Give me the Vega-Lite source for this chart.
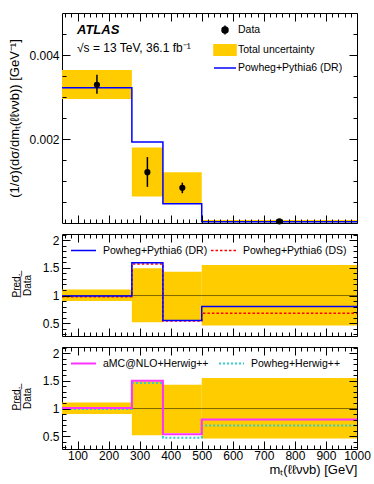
{
  "$schema": "https://vega.github.io/schema/vega-lite/v6.json",
  "padding": {"left": 7, "top": 12, "right": 19, "bottom": 2},
  "spacing": 11,
  "bounds": "flush",
  "resolve": {"scale": {"color": "independent", "strokeDash": "independent"}, "legend": {"color": "independent", "strokeDash": "independent"}},
  "datasets": {
    "top": [
      {"lo": 50, "hi": 275, "xc": 162.5, "val": 0.00329, "elo": 0.00308, "ehi": 0.00353, "blo": 0.00295, "bhi": 0.00364},
      {"lo": 275, "hi": 375, "xc": 325, "val": 0.00121, "elo": 0.00086, "ehi": 0.00157, "blo": 0.00063, "bhi": 0.0018},
      {"lo": 375, "hi": 500, "xc": 437.5, "val": 0.00084, "elo": 0.00071, "ehi": 0.00096, "blo": 0.00047, "bhi": 0.00121},
      {"lo": 500, "hi": 1000, "xc": 750, "val": 0.00004, "elo": 0.00003, "ehi": 0.00005, "blo": 0.00002, "bhi": 0.00007}
    ],
    "topline": [
      {"x": 50, "y": 0.00322},
      {"x": 275, "y": 0.00193},
      {"x": 375, "y": 0.00046},
      {"x": 500, "y": 0.00003},
      {"x": 1000, "y": 0.00003}
    ],
    "band": [
      {"lo": 50, "hi": 275, "blo": 0.9, "bhi": 1.11},
      {"lo": 275, "hi": 375, "blo": 0.52, "bhi": 1.49},
      {"lo": 375, "hi": 500, "blo": 0.56, "bhi": 1.43},
      {"lo": 500, "hi": 1000, "blo": 0.46, "bhi": 1.55}
    ],
    "mid": [
      {"model": "Powheg+Pythia6 (DR)", "x": 50, "r": 0.99},
      {"model": "Powheg+Pythia6 (DR)", "x": 275, "r": 1.59},
      {"model": "Powheg+Pythia6 (DR)", "x": 375, "r": 0.55},
      {"model": "Powheg+Pythia6 (DR)", "x": 500, "r": 0.8},
      {"model": "Powheg+Pythia6 (DR)", "x": 1000, "r": 0.8},
      {"model": "Powheg+Pythia6 (DS)", "x": 50, "r": 0.98},
      {"model": "Powheg+Pythia6 (DS)", "x": 275, "r": 1.57},
      {"model": "Powheg+Pythia6 (DS)", "x": 375, "r": 0.54},
      {"model": "Powheg+Pythia6 (DS)", "x": 500, "r": 0.68},
      {"model": "Powheg+Pythia6 (DS)", "x": 1000, "r": 0.68}
    ],
    "bot": [
      {"model": "aMC@NLO+Herwig++", "x": 50, "r": 1.01},
      {"model": "aMC@NLO+Herwig++", "x": 275, "r": 1.5},
      {"model": "aMC@NLO+Herwig++", "x": 375, "r": 0.535},
      {"model": "aMC@NLO+Herwig++", "x": 500, "r": 0.8},
      {"model": "aMC@NLO+Herwig++", "x": 1000, "r": 0.8},
      {"model": "Powheg+Herwig++", "x": 50, "r": 0.99},
      {"model": "Powheg+Herwig++", "x": 275, "r": 1.46},
      {"model": "Powheg+Herwig++", "x": 375, "r": 0.475},
      {"model": "Powheg+Herwig++", "x": 500, "r": 0.695},
      {"model": "Powheg+Herwig++", "x": 1000, "r": 0.695}
    ],
    "one": [{"ref": 1}]
  },
  "vconcat": [
    {
      "width": 295, "height": 210,
      "title": {"text": "ATLAS", "subtitle": "√s = 13 TeV, 36.1 fb⁻¹", "anchor": "start", "frame": "group", "orient": "top", "offset": -41, "dx": 15, "font": "Liberation Sans", "fontSize": 13, "fontStyle": "italic", "fontWeight": "bold", "color": "black", "subtitleFont": "Liberation Sans", "subtitleFontSize": 12, "subtitleColor": "black", "subtitlePadding": 6},
      "layer": [
        {
          "data": {"name": "top"},
          "mark": {"type": "rect", "color": "#FFCC00"},
          "encoding": {
            "x": {"field": "lo", "type": "quantitative", "scale": {"domain": [50, 1000], "nice": false, "zero": false},
                  "axis": {"orient": "bottom", "labels": false, "title": null, "values": [60,80,100,120,140,160,180,200,220,240,260,280,300,320,340,360,380,400,420,440,460,480,500,520,540,560,580,600,620,640,660,680,700,720,740,760,780,800,820,840,860,880,900,920,940,960,980,1000], "tickSize": {"condition": {"test": "datum.value % 100 === 0", "value": -8}, "value": -4}, "zindex": 1}},
            "x2": {"field": "hi"},
            "y": {"field": "blo", "type": "quantitative", "scale": {"domain": [0, 0.005], "nice": false, "zero": false},
                  "axis": {"orient": "left", "values": [0.002, 0.004], "format": ".3f", "ticks": false, "labelPadding": 3, "title": "(1/σ)(dσ/dmₜ(ℓℓννb)) [GeV⁻¹]", "titleX": -41, "titleFontSize": 13}},
            "y2": {"field": "bhi"},
            "color": {"datum": "Total uncertainty", "type": "nominal",
                      "scale": {"domain": ["Data", "Total uncertainty", "Powheg+Pythia6 (DR)"], "range": ["black", "#FFCC00", "#0000FF"]},
                      "legend": {"title": null, "orient": "none", "direction": "vertical", "legendX": 157, "legendY": 11, "symbolSize": 100, "labelFontSize": 10.5, "labelOffset": 7, "rowPadding": 3,
                        "encode": {"symbols": {"update": {
                          "shape": {"signal": "datum.value === 'Data' ? 'M0,-0.9V0.9M0.6,0A0.6,0.6 0 1,1 -0.6,0A0.6,0.6 0 1,1 0.6,0Z' : datum.value === 'Total uncertainty' ? 'M-2.2,-1.05H2.2V1.05H-2.2Z' : 'M-2.2,0H2.2'"},
                          "fill": {"signal": "datum.value === 'Data' ? 'black' : datum.value === 'Total uncertainty' ? '#FFCC00' : 'transparent'"},
                          "stroke": {"signal": "datum.value === 'Data' ? 'black' : datum.value === 'Total uncertainty' ? 'transparent' : '#0000FF'"},
                          "strokeWidth": {"value": 1.5}, "opacity": {"value": 1}, "fillOpacity": {"value": 1}, "strokeOpacity": {"value": 1}}}}}}
          }
        },
        {
          "data": {"name": "topline"},
          "mark": {"type": "line", "interpolate": "step-after", "strokeWidth": 1.5},
          "encoding": {
            "x": {"field": "x", "type": "quantitative",
                  "axis": {"orient": "top", "labels": false, "title": null, "values": [60,80,100,120,140,160,180,200,220,240,260,280,300,320,340,360,380,400,420,440,460,480,500,520,540,560,580,600,620,640,660,680,700,720,740,760,780,800,820,840,860,880,900,920,940,960,980,1000], "tickSize": {"condition": {"test": "datum.value % 100 === 0", "value": -8}, "value": -4}, "zindex": 1}},
            "y": {"field": "y", "type": "quantitative",
                  "axis": {"orient": "left", "labels": false, "title": null, "values": [0.0005, 0.001, 0.0015, 0.002, 0.0025, 0.003, 0.0035, 0.004, 0.0045], "tickSize": {"condition": {"test": "datum.value === 0.002 || datum.value === 0.004", "value": -8}, "value": -4}, "zindex": 1}},
            "color": {"datum": "Powheg+Pythia6 (DR)", "type": "nominal"}
          }
        },
        {
          "data": {"name": "top"},
          "mark": {"type": "rule", "strokeWidth": 1.5},
          "encoding": {
            "x": {"field": "xc", "type": "quantitative", "axis": null},
            "y": {"field": "elo", "type": "quantitative",
                  "axis": {"orient": "right", "labels": false, "title": null, "values": [0.0005, 0.001, 0.0015, 0.002, 0.0025, 0.003, 0.0035, 0.004, 0.0045], "tickSize": {"condition": {"test": "datum.value === 0.002 || datum.value === 0.004", "value": -8}, "value": -4}, "zindex": 1}},
            "y2": {"field": "ehi"},
            "color": {"datum": "Data", "type": "nominal"}
          }
        },
        {
          "data": {"name": "top"},
          "mark": {"type": "point", "filled": true, "size": 38, "opacity": 1},
          "encoding": {
            "x": {"field": "xc", "type": "quantitative", "axis": null},
            "y": {"field": "val", "type": "quantitative", "axis": null},
            "color": {"datum": "Data", "type": "nominal"}
          }
        }
      ],
      "resolve": {"axis": {"x": "independent", "y": "independent"}}
    },
    {
      "width": 295, "height": 102,
      "layer": [
        {
          "data": {"name": "band"},
          "mark": {"type": "rect", "color": "#FFCC00"},
          "encoding": {
            "x": {"field": "lo", "type": "quantitative", "scale": {"domain": [50, 1000], "nice": false, "zero": false},
                  "axis": {"orient": "bottom", "labels": false, "title": null, "values": [60,80,100,120,140,160,180,200,220,240,260,280,300,320,340,360,380,400,420,440,460,480,500,520,540,560,580,600,620,640,660,680,700,720,740,760,780,800,820,840,860,880,900,920,940,960,980,1000], "tickSize": {"condition": {"test": "datum.value % 100 === 0", "value": -8}, "value": -4}, "zindex": 1}},
            "x2": {"field": "hi"},
            "y": {"field": "blo", "type": "quantitative", "scale": {"domain": [0.27, 2.11], "nice": false, "zero": false},
                  "axis": {"orient": "left", "values": [0.5, 1, 1.5, 2], "format": "~g", "ticks": false, "labelPadding": 3, "title": ["P̲r̲e̲d̲.̲", "Data"], "titleX": -41, "titleFontSize": 10, "titleLineHeight": 11}},
            "y2": {"field": "bhi"}
          }
        },
        {
          "data": {"name": "one"},
          "mark": {"type": "rule", "color": "black", "opacity": 0.5, "strokeWidth": 1},
          "encoding": {
            "y": {"field": "ref", "type": "quantitative",
                  "axis": {"orient": "left", "labels": false, "title": null, "values": [0.3,0.4,0.5,0.6,0.7,0.8,0.9,1,1.1,1.2,1.3,1.4,1.5,1.6,1.7,1.8,1.9,2,2.1], "tickSize": {"condition": {"test": "datum.value === 0.5 || datum.value === 1 || datum.value === 1.5 || datum.value === 2", "value": -8}, "value": -4}, "zindex": 1}}
          }
        },
        {
          "data": {"name": "mid"},
          "transform": [{"filter": "datum.model === 'Powheg+Pythia6 (DS)'"}],
          "mark": {"type": "line", "interpolate": "step-after", "strokeWidth": 1.5},
          "encoding": {
            "x": {"field": "x", "type": "quantitative",
                  "axis": {"orient": "top", "labels": false, "title": null, "values": [60,80,100,120,140,160,180,200,220,240,260,280,300,320,340,360,380,400,420,440,460,480,500,520,540,560,580,600,620,640,660,680,700,720,740,760,780,800,820,840,860,880,900,920,940,960,980,1000], "tickSize": {"condition": {"test": "datum.value % 100 === 0", "value": -8}, "value": -4}, "zindex": 1}},
            "y": {"field": "r", "type": "quantitative", "axis": null},
            "color": {"field": "model", "type": "nominal",
                      "scale": {"domain": ["Powheg+Pythia6 (DR)", "Powheg+Pythia6 (DS)"], "range": ["#0000FF", "#FF0000"]},
                      "legend": {"title": null, "orient": "none", "legendX": 8, "legendY": 3, "direction": "horizontal", "symbolSize": 625, "symbolStrokeWidth": 1.5, "labelFontSize": 10.5, "labelOffset": 6, "columnPadding": 0}},
            "strokeDash": {"field": "model", "type": "nominal",
                           "scale": {"domain": ["Powheg+Pythia6 (DR)", "Powheg+Pythia6 (DS)"], "range": [[1, 0], [2.5, 2]]},
                           "legend": {"title": null, "orient": "none", "legendX": 8, "legendY": 3, "direction": "horizontal", "symbolSize": 625, "symbolStrokeWidth": 1.5, "labelFontSize": 10.5, "labelOffset": 6, "columnPadding": 0}}
          }
        },
        {
          "data": {"name": "mid"},
          "transform": [{"filter": "datum.model === 'Powheg+Pythia6 (DR)'"}],
          "mark": {"type": "line", "interpolate": "step-after", "strokeWidth": 1.5},
          "encoding": {
            "x": {"field": "x", "type": "quantitative", "axis": null},
            "y": {"field": "r", "type": "quantitative",
                  "axis": {"orient": "right", "labels": false, "title": null, "values": [0.3,0.4,0.5,0.6,0.7,0.8,0.9,1,1.1,1.2,1.3,1.4,1.5,1.6,1.7,1.8,1.9,2,2.1], "tickSize": {"condition": {"test": "datum.value === 0.5 || datum.value === 1 || datum.value === 1.5 || datum.value === 2", "value": -8}, "value": -4}, "zindex": 1}},
            "color": {"field": "model", "type": "nominal"},
            "strokeDash": {"field": "model", "type": "nominal"}
          }
        }
      ],
      "resolve": {"axis": {"x": "independent", "y": "independent"}}
    },
    {
      "width": 295, "height": 102,
      "layer": [
        {
          "data": {"name": "band"},
          "mark": {"type": "rect", "color": "#FFCC00"},
          "encoding": {
            "x": {"field": "lo", "type": "quantitative", "scale": {"domain": [50, 1000], "nice": false, "zero": false},
                  "axis": {"orient": "bottom", "values": [100,200,300,400,500,600,700,800,900,1000], "format": "d", "ticks": false, "labelPadding": 1, "labelFlush": false, "labelOverlap": false, "title": "mₜ(ℓℓννb) [GeV]", "titleAnchor": "end", "titlePadding": 2, "titleFontSize": 13}},
            "x2": {"field": "hi"},
            "y": {"field": "blo", "type": "quantitative", "scale": {"domain": [0.27, 2.11], "nice": false, "zero": false},
                  "axis": {"orient": "left", "values": [0.5, 1, 1.5, 2], "format": "~g", "ticks": false, "labelPadding": 3, "title": ["P̲r̲e̲d̲.̲", "Data"], "titleX": -41, "titleFontSize": 10, "titleLineHeight": 11}},
            "y2": {"field": "bhi"}
          }
        },
        {
          "data": {"name": "one"},
          "mark": {"type": "rule", "color": "black", "opacity": 0.5, "strokeWidth": 1},
          "encoding": {
            "y": {"field": "ref", "type": "quantitative",
                  "axis": {"orient": "left", "labels": false, "title": null, "values": [0.3,0.4,0.5,0.6,0.7,0.8,0.9,1,1.1,1.2,1.3,1.4,1.5,1.6,1.7,1.8,1.9,2,2.1], "tickSize": {"condition": {"test": "datum.value === 0.5 || datum.value === 1 || datum.value === 1.5 || datum.value === 2", "value": -8}, "value": -4}, "zindex": 1}}
          }
        },
        {
          "data": {"name": "bot"},
          "transform": [{"filter": "datum.model === 'Powheg+Herwig++'"}],
          "mark": {"type": "line", "interpolate": "step-after", "strokeWidth": 2},
          "encoding": {
            "x": {"field": "x", "type": "quantitative",
                  "axis": {"orient": "top", "labels": false, "title": null, "values": [60,80,100,120,140,160,180,200,220,240,260,280,300,320,340,360,380,400,420,440,460,480,500,520,540,560,580,600,620,640,660,680,700,720,740,760,780,800,820,840,860,880,900,920,940,960,980,1000], "tickSize": {"condition": {"test": "datum.value % 100 === 0", "value": -8}, "value": -4}, "zindex": 1}},
            "y": {"field": "r", "type": "quantitative", "axis": null},
            "color": {"field": "model", "type": "nominal",
                      "scale": {"domain": ["aMC@NLO+Herwig++", "Powheg+Herwig++"], "range": ["#FF33FF", "#33CCCC"]},
                      "legend": {"title": null, "orient": "none", "legendX": 8, "legendY": 3, "direction": "horizontal", "symbolSize": 625, "symbolStrokeWidth": 2, "labelFontSize": 10.5, "labelOffset": 6, "columnPadding": 6}},
            "strokeDash": {"field": "model", "type": "nominal",
                           "scale": {"domain": ["aMC@NLO+Herwig++", "Powheg+Herwig++"], "range": [[1, 0], [2, 2]]},
                           "legend": {"title": null, "orient": "none", "legendX": 8, "legendY": 3, "direction": "horizontal", "symbolSize": 625, "symbolStrokeWidth": 2, "labelFontSize": 10.5, "labelOffset": 6, "columnPadding": 6}}
          }
        },
        {
          "data": {"name": "bot"},
          "transform": [{"filter": "datum.model === 'aMC@NLO+Herwig++'"}],
          "mark": {"type": "line", "interpolate": "step-after", "strokeWidth": 2},
          "encoding": {
            "x": {"field": "x", "type": "quantitative",
                  "axis": {"orient": "bottom", "labels": false, "title": null, "values": [60,80,100,120,140,160,180,200,220,240,260,280,300,320,340,360,380,400,420,440,460,480,500,520,540,560,580,600,620,640,660,680,700,720,740,760,780,800,820,840,860,880,900,920,940,960,980,1000], "tickSize": {"condition": {"test": "datum.value % 100 === 0", "value": -8}, "value": -4}, "zindex": 1}},
            "y": {"field": "r", "type": "quantitative",
                  "axis": {"orient": "right", "labels": false, "title": null, "values": [0.3,0.4,0.5,0.6,0.7,0.8,0.9,1,1.1,1.2,1.3,1.4,1.5,1.6,1.7,1.8,1.9,2,2.1], "tickSize": {"condition": {"test": "datum.value === 0.5 || datum.value === 1 || datum.value === 1.5 || datum.value === 2", "value": -8}, "value": -4}, "zindex": 1}},
            "color": {"field": "model", "type": "nominal"},
            "strokeDash": {"field": "model", "type": "nominal"}
          }
        }
      ],
      "resolve": {"axis": {"x": "independent", "y": "independent"}}
    }
  ],
  "config": {
    "font": "Liberation Sans",
    "view": {"stroke": "black", "strokeWidth": 1},
    "axis": {"grid": false, "domain": false, "labelFont": "Liberation Sans", "labelFontSize": 12, "labelColor": "black", "titleFont": "Liberation Sans", "titleFontWeight": "normal", "titleColor": "black", "tickColor": "black", "tickWidth": 1},
    "legend": {"labelFont": "Liberation Sans", "labelColor": "black", "labelFontSize": 10.5}
  }
}
